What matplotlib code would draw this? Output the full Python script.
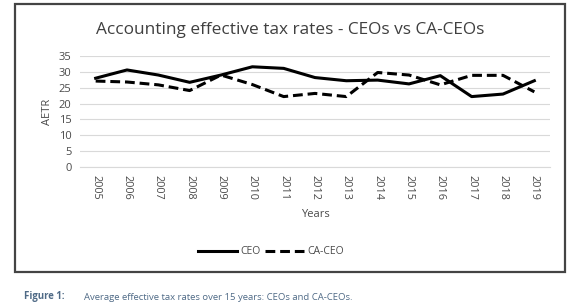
import matplotlib.pyplot as plt
from matplotlib.patches import Rectangle

years = [str(y) for y in range(2005, 2020)]
ceo = [28.0, 30.6, 29.0, 26.7, 29.0, 31.6, 31.1, 28.2, 27.2, 27.4, 26.2, 28.8, 22.2, 23.0, 27.2]
ca_ceo = [27.1, 26.8, 25.9, 24.1, 29.0, 26.0, 22.2, 23.2, 22.2, 29.8, 29.0, 25.9, 28.9, 28.9, 23.7]
yticks = [0, 5, 10, 15, 20, 25, 30, 35]

W, H = 573, 306
plt.rcParams['font.family'] = ['Open Sans', 'DejaVu Sans']
fig = plt.figure(figsize=(W / 100, H / 100), dpi=100)

# outer chart border
fig.patches.append(Rectangle((15 / W, 1 - 272 / H), 550 / W, 268 / H, transform=fig.transFigure,
                             fill=False, edgecolor='#444444', linewidth=1.6))

# plot area in pixels: left 80, right 550, top 56 (35), bottom 167 (0)
ax = fig.add_axes([80 / W, 1 - 167 / H, 470 / W, 111 / H])
x = list(range(len(years)))
ax.plot(x, ceo, color='black', linewidth=2.2, label='CEO')
ax.plot(x, ca_ceo, color='black', linewidth=2.2, linestyle=(0, (3.2, 1.6)), label='CA-CEO')

ax.set_xlim(-0.5, len(years) - 0.5)
ax.set_ylim(0, 35)
ax.set_yticks(yticks)
ax.set_xticks(x)
ax.set_xticklabels(years, rotation=-90, fontsize=7.8, color='#4a4a4a')
ax.tick_params(axis='y', labelsize=8, labelcolor='#4a4a4a', length=0, pad=6)
ax.tick_params(axis='x', length=0, pad=6)
ax.grid(axis='y', color='#d9d9d9', linewidth=0.8)
ax.set_axisbelow(True)
for s in ['top', 'right', 'left']:
    ax.spines[s].set_visible(False)
ax.spines['bottom'].set_color('#d9d9d9')
ax.spines['bottom'].set_linewidth(0.8)

ax.set_ylabel('AETR', fontsize=8, color='#4a4a4a', labelpad=4)
ax.set_xlabel('Years', fontsize=8, color='#4a4a4a', labelpad=6)

fig.text(290 / W, 1 - 30 / H, 'Accounting effective tax rates - CEOs vs CA-CEOs',
         ha='center', va='center', fontsize=12.4, color='#404040')

leg = fig.legend(loc='center', bbox_to_anchor=(271 / W, 1 - 252 / H), ncol=2, frameon=False,
                 fontsize=7.5, handlelength=3.8, columnspacing=0.4, handletextpad=0.3)
for t in leg.get_texts():
    t.set_color('#4a4a4a')

fig.text(24 / W, 1 - 297 / H, 'Figure 1:', ha='left', va='center', fontsize=6.9,
         fontweight='bold', color='#4f6a86')
fig.text(84 / W, 1 - 297 / H, 'Average effective tax rates over 15 years: CEOs and CA-CEOs.',
         ha='left', va='center', fontsize=6.8, color='#4f6a86')

fig.savefig('out.png', dpi=100)
